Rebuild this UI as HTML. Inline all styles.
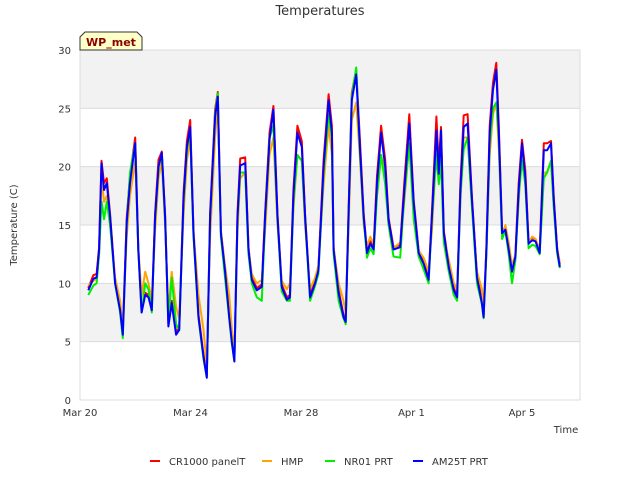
<!DOCTYPE html>
<html><head><meta charset="utf-8"><style>
body{margin:0;background:#fff;font-family:"Liberation Sans","DejaVu Sans",sans-serif}
svg text{font-family:"DejaVu Sans","Liberation Sans",sans-serif}
</style></head><body>
<svg id="chart" width="640" height="480" viewBox="0 0 640 480" xmlns="http://www.w3.org/2000/svg">
<rect width="640" height="480" fill="#fff"/>
<text x="320" y="15" text-anchor="middle" font-size="13" fill="#333">Temperatures</text>
<g id="bands"></g>
<g id="grid"></g>
<g id="series"></g>
<g id="axes"></g>
<g>
<path d="M80,50 L80,37 L85,32 L137,32 L142,37 L142,50 Z" fill="#ffffc8" stroke="#333" stroke-width="1"/>
<text x="111" y="46" text-anchor="middle" font-size="11" font-weight="bold" fill="#8b0000">WP_met</text>
</g>
<text transform="translate(17,225) rotate(-90)" text-anchor="middle" font-size="10" fill="#333">Temperature (C)</text>
<text x="566" y="433" text-anchor="middle" font-size="10" fill="#333">Time</text>
<g id="legend"></g>
</svg>
<script>
const xTickLabels=["Mar 20","Mar 24","Mar 28","Apr 1","Apr 5"];
const xTickDays=[0,4,8,12,16];
const yTicks=[0,5,10,15,20,25,30];
const seriesNames=["CR1000 panelT","HMP","NR01 PRT","AM25T PRT"];
const seriesColors=["#ff0000","#ffa500","#00ee00","#0000ff"];
const times=[0.3,0.48,0.6,0.69,0.78,0.87,0.97,1.09,1.27,1.45,1.55,1.69,1.81,2.0,2.11,2.23,2.36,2.48,2.6,2.72,2.84,2.96,3.08,3.2,3.32,3.48,3.59,3.75,3.87,3.99,4.11,4.29,4.47,4.59,4.71,4.89,4.99,5.1,5.25,5.4,5.5,5.59,5.7,5.8,5.98,6.1,6.22,6.4,6.58,6.7,6.86,7.0,7.15,7.3,7.49,7.6,7.73,7.87,8.03,8.15,8.33,8.51,8.63,8.82,9.0,9.12,9.18,9.36,9.54,9.62,9.72,9.84,10.0,10.14,10.27,10.39,10.51,10.63,10.75,10.9,11.05,11.17,11.35,11.59,11.74,11.92,12.08,12.26,12.44,12.62,12.74,12.9,12.99,13.07,13.17,13.35,13.53,13.65,13.77,13.89,14.03,14.19,14.37,14.55,14.61,14.71,14.83,14.95,15.07,15.16,15.28,15.4,15.52,15.64,15.76,15.88,16.0,16.12,16.24,16.37,16.49,16.64,16.79,16.91,17.05,17.15,17.27,17.37];
const cr1000=[9.6,10.7,10.8,13.1,20.5,18.6,19,15.9,10.2,7.9,5.8,15.6,19.2,22.5,13.1,7.7,9.2,9,7.9,16,20.6,21.3,15.9,6.5,8.5,5.8,6.2,17.8,22.2,24,14.5,7.3,3.9,2.1,16,24.9,26.4,14.5,11.3,7.3,5.1,3.5,16,20.7,20.8,13.1,10.5,9.6,9.9,16,22.9,25.2,15.9,9.9,8.8,9,18.1,23.5,22.2,15.9,9,10.2,11.3,20.6,26.2,23.5,13.1,9.4,7.3,6.9,16,26.3,28.3,22,15.9,12.8,13.6,13.1,19.2,23.5,20.6,15.6,13.1,13.3,18.6,24.5,17.1,12.8,11.9,10.5,16,24.3,20,23.4,14.5,11.6,9.6,9,18.6,24.4,24.5,17.3,10.7,8.5,7.3,13.1,23.5,27.2,28.9,23.5,14.5,14.8,13.1,11.2,12.5,18.6,22.3,19.7,13.6,13.9,13.8,12.8,22,22,22.2,17.3,13.1,11.6];
const hmp=[9.8,10.2,10.4,12.5,19,17,17.5,15,10.5,8.5,6.2,14,17.5,20.5,13,9,11,10,8.5,14.5,19,20.5,15,7.5,11,8,7,16,20.5,22.5,14.5,9,6,3,14,22.5,25.5,14.5,11.5,9,6,4,14.5,19,19.5,13,10.8,10,10.3,14.5,21,22.5,15,10.2,9.5,10,16.5,21,20.5,15,9.5,10.5,11.5,18.5,23.5,21,13,10,8.5,7.5,14.5,24,25.5,20.5,15,13.2,14,13.4,17.5,21,19.5,15,13,13.5,17,22,16.5,12.8,12.2,11,14.5,21.5,19,21.5,14,12,10,9.5,17,22.5,22.5,16.5,11,9.5,8,12.5,21,24.5,25.5,21.5,14,15,13.5,11.5,12.5,17,21.5,18.5,13.5,14,13.8,12.8,19.5,19.5,20.5,16.5,13,11.8];
const nr01=[9,9.8,10,12.5,17,15.5,17,15,10,7.5,5.3,15,19.5,22,12.8,7.5,10,9.5,7.5,15.5,20,21,15.5,6.8,10.5,6.5,6,17,21.5,23,14,7,3.5,2,15.5,24.5,26.3,14,10.5,7,4.8,3.3,15.5,19.5,19.5,12.5,10,8.8,8.5,15.5,22.5,23.5,15.5,9.3,8.5,8.5,17,21,20.5,15.5,8.5,9.8,10.8,19.5,24.5,22.5,12.5,8.5,7,6.5,15.5,26,28.5,21,15.5,12.2,13,12.5,17.5,21,18.5,15,12.3,12.2,17.5,22,15.5,12.3,11.2,10,15.5,21,18.5,20.5,13.5,11,9,8.5,17.5,21.5,22.5,16.5,10,8.2,7,12.5,22,25,25.5,22.5,13.8,14.5,12.5,10,12,17.5,20.5,18.5,13,13.3,13.2,12.5,19,19.5,20.5,16.5,12.6,11.3];
const am25t=[9.4,10.4,10.5,12.9,20.3,18,18.6,15.7,10,7.7,5.6,15.2,18.6,22,12.9,7.5,9,8.8,7.7,15.7,20,21.2,15.7,6.3,8.3,5.6,6,17.4,21.7,23.4,14.3,7.1,3.7,1.9,15.7,24.3,26,14.3,11.1,7.1,4.9,3.3,15.7,20.1,20.3,12.9,10.3,9.4,9.7,15.7,22.3,24.9,15.7,9.7,8.6,8.8,17.7,22.9,21.7,15.7,8.8,10,11.1,20,25.7,22.9,12.9,9.2,7.1,6.7,15.7,25.7,27.9,21.4,15.7,12.6,13.4,12.9,18.6,22.9,20,15.4,12.9,13.1,18,23.7,16.9,12.6,11.7,10.3,15.7,23.1,19.4,23.1,14.3,11.4,9.4,8.8,18,23.4,23.7,17.1,10.5,8.3,7.1,12.9,22.9,26.6,28.3,22.9,14.3,14.6,12.9,11,12.3,18,22,19.1,13.4,13.7,13.6,12.6,21.4,21.4,22,17.1,12.9,11.4];

const NS="http://www.w3.org/2000/svg";
const L=80,R=580,T=50,B=400;
const xMaxDay=18.1;
function xs(d){return L+(d/xMaxDay)*(R-L);}
function ys(v){return B-(v/30)*(B-T);}
function mk(tag,attrs,parent){const e=document.createElementNS(NS,tag);for(const k in attrs)e.setAttribute(k,attrs[k]);parent.appendChild(e);return e;}

const bands=document.getElementById('bands');
for(let i=0;i<yTicks.length-1;i++){
  const r=mk('rect',{x:L,y:ys(yTicks[i+1]),width:R-L,height:ys(yTicks[i])-ys(yTicks[i+1]),fill:(i%2===1)?'#f2f2f2':'#ffffff'},bands);
  
  
}
const grid=document.getElementById('grid');
yTicks.forEach(v=>{
  const l=mk('line',{x1:L,x2:R,y1:ys(v),y2:ys(v),stroke:'#dcdcdc','stroke-width':1},grid);
  
  
});
mk('rect',{x:L,y:T,width:R-L,height:B-T,fill:'none',stroke:'#dcdcdc'},grid);

const axes=document.getElementById('axes');
yTicks.forEach(v=>{
  const t=mk('text',{x:L-9,y:ys(v)+4,'text-anchor':'end','font-size':10,fill:'#333'},axes);
  t.textContent=v;
  
  
});
xTickDays.forEach((d,i)=>{
  const t=mk('text',{x:xs(d),y:416,'text-anchor':'middle','font-size':10,fill:'#333'},axes);
  t.textContent=xTickLabels[i];
  
  
});

const sg=document.getElementById('series');
[cr1000,hmp,nr01,am25t].forEach((arr,si)=>{
  const n=Math.min(arr.length,times.length);
  let d='';
  for(let i=0;i<n;i++){d+=(i?'L':'M')+xs(times[i]).toFixed(1)+','+ys(arr[i]).toFixed(1);}
  const p=mk('path',{d:d,fill:'none',stroke:seriesColors[si],'stroke-width':2,'stroke-linejoin':'round'},sg);
  
  
});

const lg=document.getElementById('legend');
const lx=[150,262,325,413];
seriesNames.forEach((nm,i)=>{
  const g=mk('g',{},lg);
  
  
  mk('line',{x1:lx[i],x2:lx[i]+10,y1:461,y2:461,stroke:seriesColors[i],'stroke-width':2},g);
  const t=mk('text',{x:lx[i]+19,y:465,'font-size':10,fill:'#333'},g);
  t.textContent=nm;
});
</script>
</body></html>
